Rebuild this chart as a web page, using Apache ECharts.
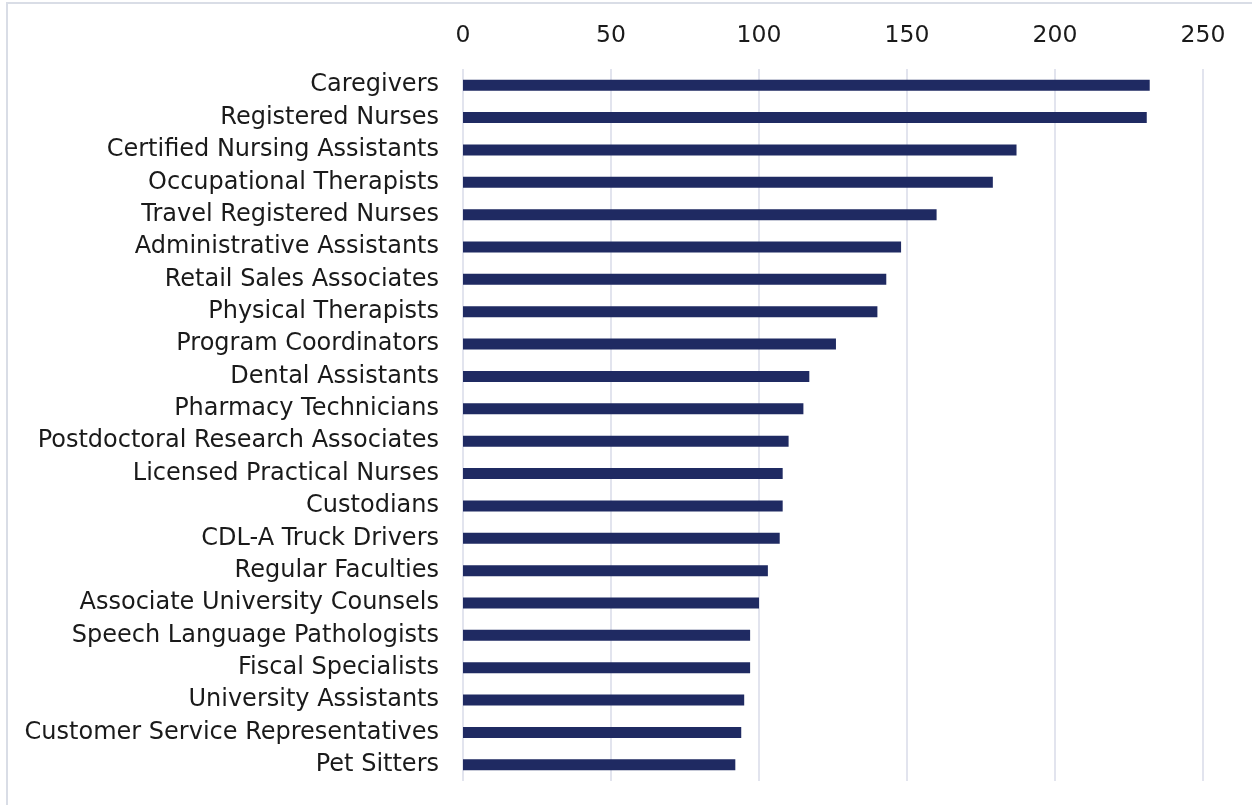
<!DOCTYPE html>
<html>
<head>
<meta charset="utf-8">
<script src="https://cdn.jsdelivr.net/npm/echarts@6/dist/echarts.min.js"></script>
<style>
  html, body { margin: 0; padding: 0; background: #ffffff; }
  #chart { width: 1252px; height: 805px; }
</style>
</head>
<body>
<div id="chart"></div>
<script>
// Job titles, listed top to bottom
const jobTitles = [
  'Caregivers',
  'Registered Nurses',
  'Certified Nursing Assistants',
  'Occupational Therapists',
  'Travel Registered Nurses',
  'Administrative Assistants',
  'Retail Sales Associates',
  'Physical Therapists',
  'Program Coordinators',
  'Dental Assistants',
  'Pharmacy Technicians',
  'Postdoctoral Research Associates',
  'Licensed Practical Nurses',
  'Custodians',
  'CDL-A Truck Drivers',
  'Regular Faculties',
  'Associate University Counsels',
  'Speech Language Pathologists',
  'Fiscal Specialists',
  'University Assistants',
  'Customer Service Representatives',
  'Pet Sitters'
];

// Count for each job title
const counts = [232, 231, 187, 179, 160, 148, 143, 140, 126, 117, 115, 110, 108, 108, 107, 103, 100, 97, 97, 95, 94, 92];

// Value axis range
const axisMin = 0;
const axisMax = 250;
const axisStep = 50;

const chart = echarts.init(document.getElementById('chart'), null, { renderer: 'canvas' });

chart.setOption({
  backgroundColor: '#ffffff',
  animation: false,
  textStyle: { fontFamily: 'DejaVu Sans' },
  graphic: [{
    type: 'rect',
    shape: { x: 7, y: 3, width: 1400, height: 1000 },
    style: { fill: 'none', stroke: '#d9dde6', lineWidth: 2 },
    silent: true,
    z: -1
  }],
  grid: { left: 463, right: 49, top: 69, bottom: 24, containLabel: false },
  xAxis: {
    type: 'value',
    position: 'top',
    min: axisMin,
    max: axisMax,
    interval: axisStep,
    axisLine: { show: false },
    axisTick: { show: false },
    axisLabel: { color: '#1a1a1a', fontSize: 23.5, fontFamily: 'DejaVu Sans', margin: 21 },
    splitLine: { show: true, lineStyle: { color: '#d8dbe8', width: 1.5 } }
  },
  yAxis: {
    type: 'category',
    data: jobTitles,
    inverse: true,
    axisLine: { show: false },
    axisTick: { show: false },
    axisLabel: { color: '#1a1a1a', fontSize: 24, fontFamily: 'DejaVu Sans', margin: 24, interval: 0 }
  },
  series: [{
    type: 'bar',
    data: counts,
    barWidth: 11,
    itemStyle: { color: '#1f2a62' }
  }]
});
</script>
</body>
</html>
